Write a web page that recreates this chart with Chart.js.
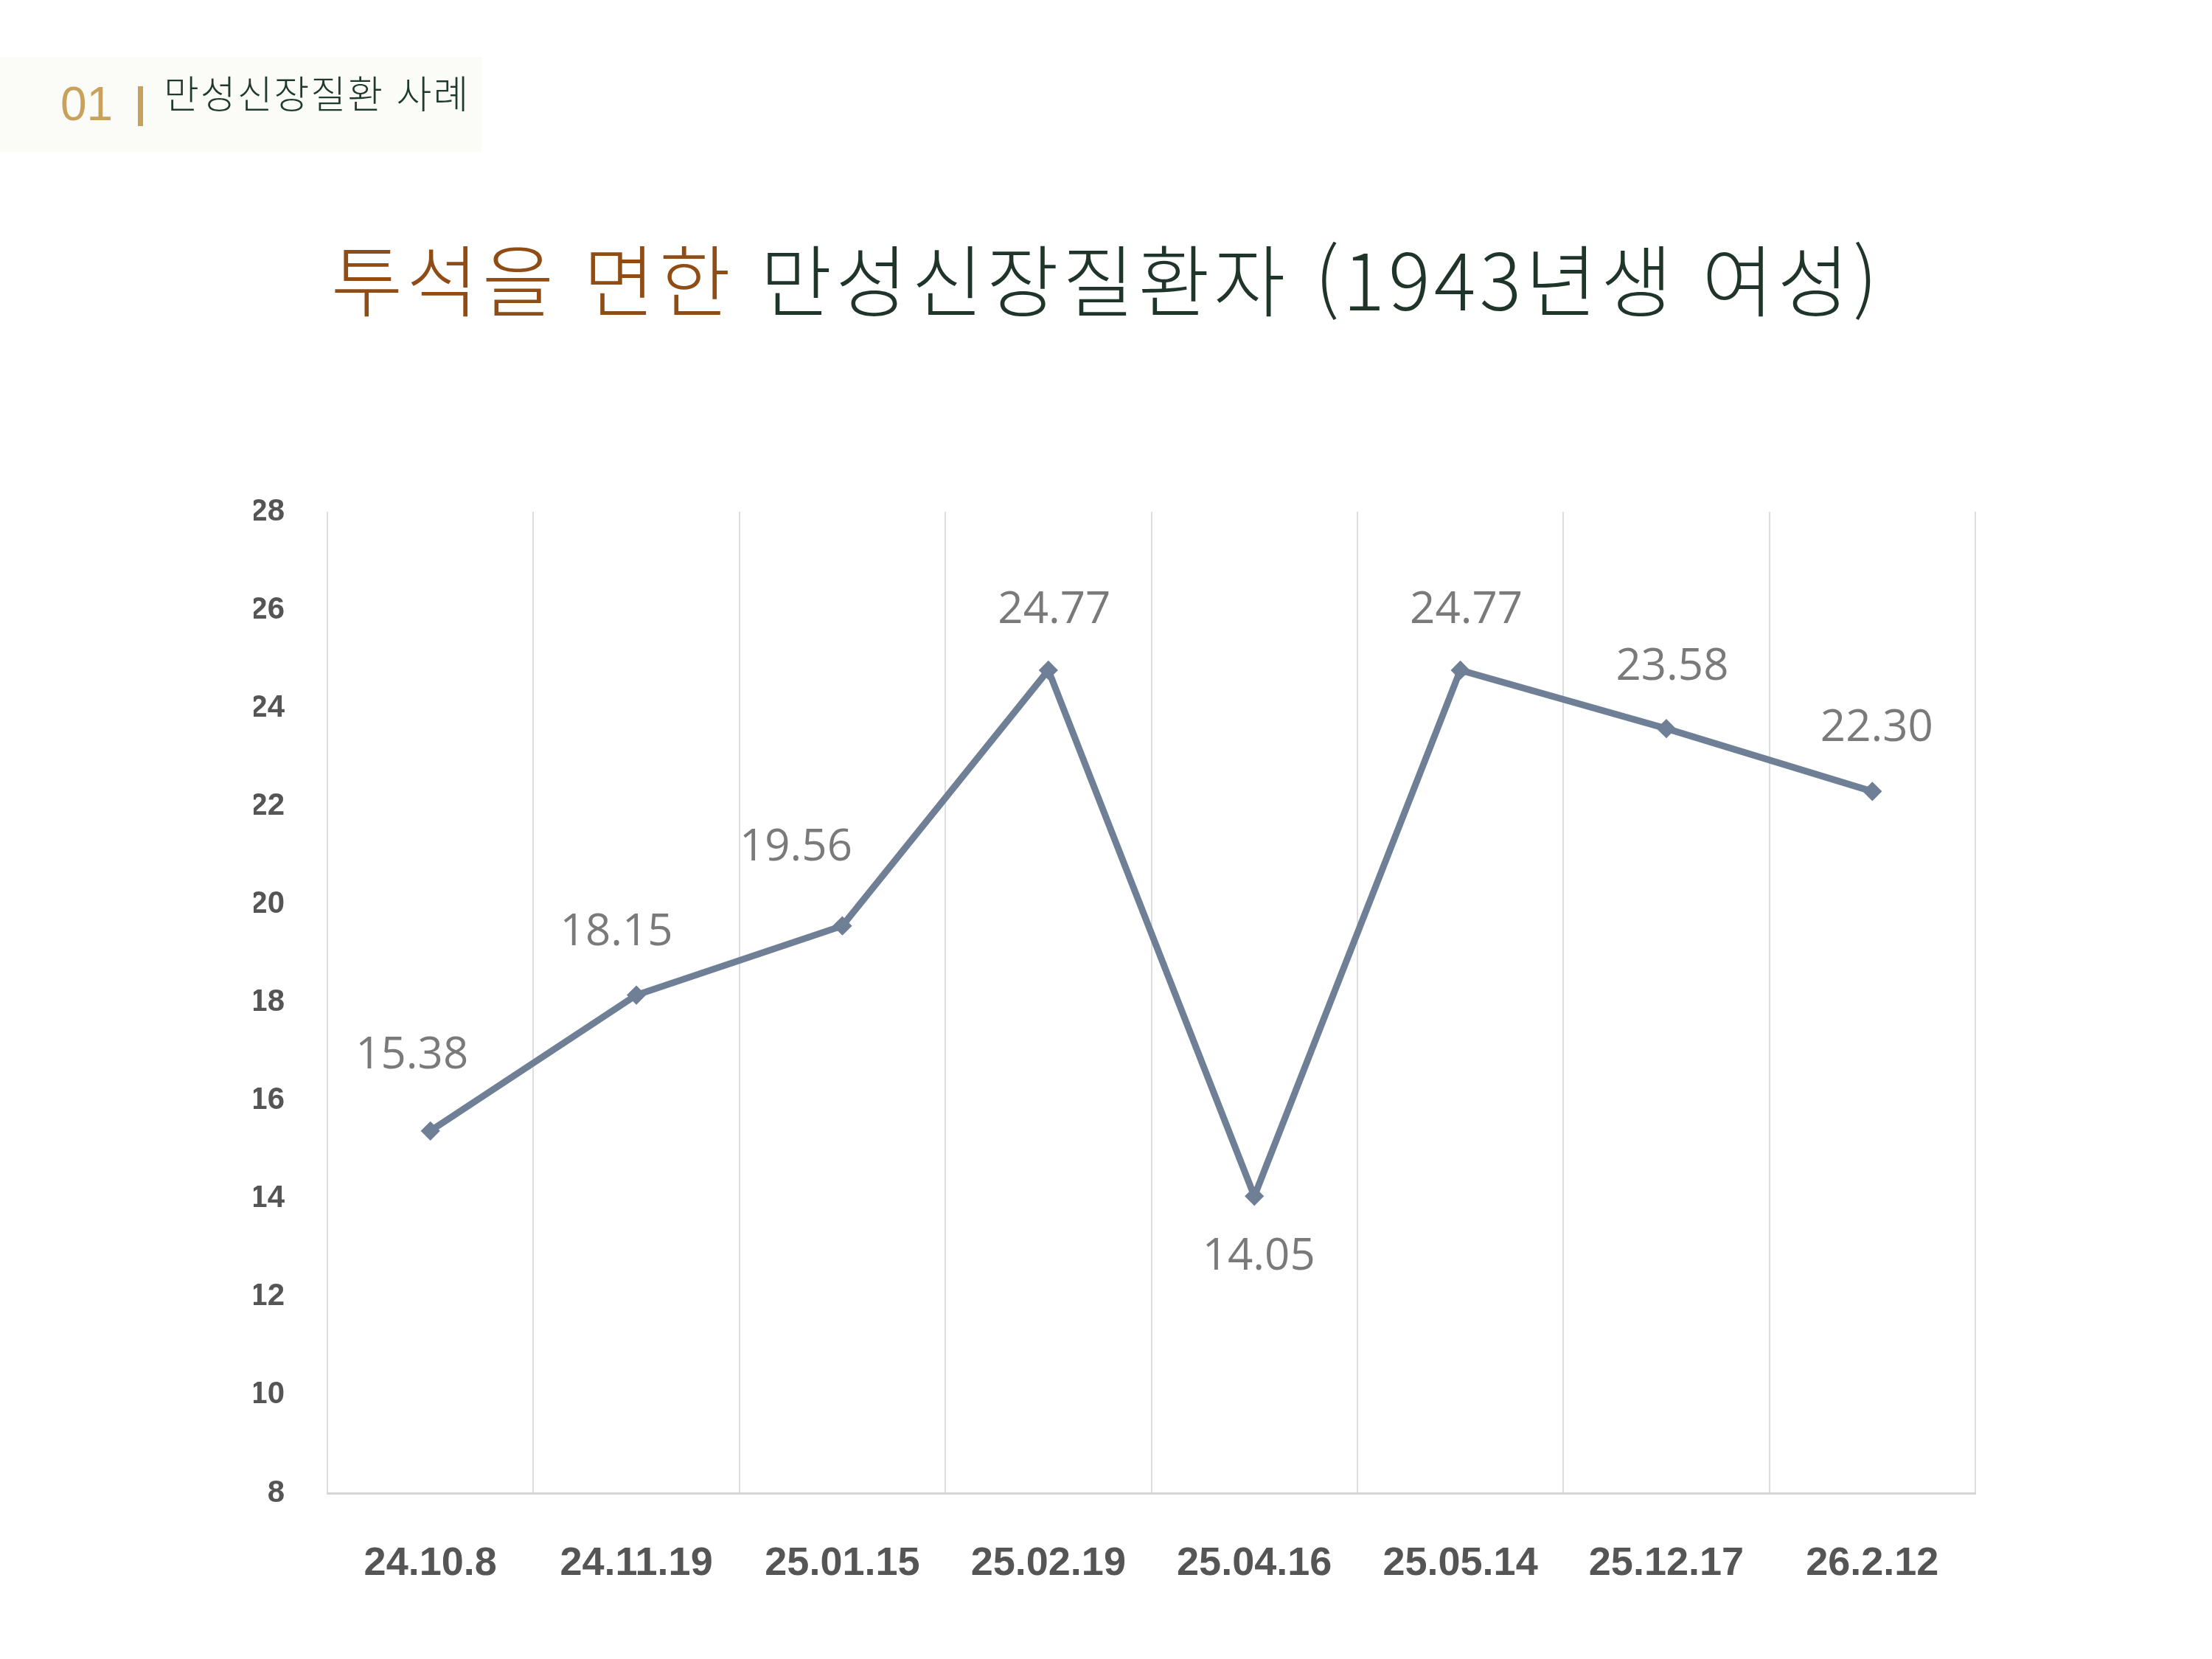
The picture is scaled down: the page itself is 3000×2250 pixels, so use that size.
<!DOCTYPE html>
<html lang="ko">
<head>
<meta charset="utf-8">
<title>투석을 면한 만성신장질환자</title>
<script src="https://cdn.jsdelivr.net/npm/chart.js@4.4.1/dist/chart.umd.min.js"></script>
<style>
  html, body {
    margin: 0;
    padding: 0;
    background: #ffffff;
  }
  body {
    width: 3000px;
    height: 2250px;
    position: relative;
    overflow: hidden;
    font-family: "Noto Sans CJK KR", "Noto Sans", sans-serif;
  }
  .tag {
    position: absolute;
    left: 0;
    top: 77px;
    width: 654px;
    height: 129px;
    background: #fbfbf7;
  }
  .tag .num {
    position: absolute;
    left: 82px;
    top: 32px;
    font-family: "Liberation Sans", Arial, sans-serif;
    font-size: 64px;
    line-height: 64px;
    color: #c8a25c;
  }
  .tag .bar {
    position: absolute;
    left: 187px;
    top: 40px;
    width: 7px;
    height: 54px;
    background: #c8a25c;
  }
  .tag .label {
    position: absolute;
    left: 222px;
    top: 12px;
    font-size: 52px;
    line-height: 72px;
    font-weight: 300;
    color: #1e3a2c;
    letter-spacing: 2px;
  }
  h1 {
    position: absolute;
    left: 0;
    width: 3000px;
    top: 300px;
    margin: 0;
    text-align: center;
    font-size: 106px;
    line-height: 150px;
    font-weight: 300;
    color: #1f3529;
    letter-spacing: 5px;
  }
  h1 .accent {
    color: #8f4c14;
  }
  .chart-box {
    position: absolute;
    left: 0;
    top: 600px;
    width: 3000px;
    height: 1650px;
  }
</style>
</head>
<body>
<div class="tag">
  <span class="num">01</span>
  <div class="bar"></div>
  <span class="label">만성신장질환 사례</span>
</div>
<h1><span class="accent">투석을 면한</span> 만성신장질환자 (1943년생 여성)</h1>
<div class="chart-box"><canvas id="chart"></canvas></div>

<script>
// 검사 날짜
const DATES = [
  "24.10.8",
  "24.11.19",
  "25.01.15",
  "25.02.19",
  "25.04.16",
  "25.05.14",
  "25.12.17",
  "26.2.12",
];

// 측정값
const VALUES = [15.38, 18.15, 19.56, 24.77, 14.05, 24.77, 23.58, 22.3];

// y축 범위
const Y_MIN = 8;
const Y_MAX = 28;
const Y_STEP = 2;

// 값 라벨 위치 보정 (px)
const LABEL_SHIFT = [
  [-25, -102],
  [-27, -85],
  [-63, -106],
  [8, -81],
  [6, 83],
  [8, -81],
  [8, -83],
  [6, -85],
];

const valueLabels = {
  id: "valueLabels",
  afterDatasetsDraw(chart) {
    const ctx = chart.ctx;
    const meta = chart.getDatasetMeta(0);
    ctx.save();
    ctx.font = '60px "Open Sans", "Liberation Sans", sans-serif';
    ctx.fillStyle = "#7a7a7a";
    ctx.textAlign = "center";
    ctx.textBaseline = "middle";
    meta.data.forEach((pt, i) => {
      const shift = LABEL_SHIFT[i] || [0, -85];
      ctx.fillText(VALUES[i].toFixed(2), pt.x + shift[0], pt.y + shift[1]);
    });
    ctx.restore();
  },
};

const ctx = document.getElementById("chart").getContext("2d");
new Chart(ctx, {
  type: "line",
  data: {
    labels: DATES,
    datasets: [
      {
        data: VALUES,
        borderColor: "#6e7f96",
        backgroundColor: "#6e7f96",
        borderWidth: 9,
        pointStyle: "rectRot",
        pointRadius: 11,
        pointBorderWidth: 3,
        pointBorderColor: "#6e7f96",
        pointBackgroundColor: "#6e7f96",
        tension: 0,
        fill: false,
      },
    ],
  },
  options: {
    responsive: true,
    maintainAspectRatio: false,
    animation: false,
    layout: {
      padding: { left: 344, right: 321, top: 94, bottom: 75 },
    },
    plugins: {
      legend: { display: false },
      tooltip: { enabled: false },
    },
    scales: {
      x: {
        offset: true,
        grid: {
          display: true,
          offset: true,
          color: "#dedede",
          lineWidth: 2,
          drawTicks: false,
        },
        border: { display: true, color: "#d6d6d6", width: 3 },
        ticks: {
          padding: 64,
          color: "#555555",
          font: { family: '"Liberation Sans", Arial, sans-serif', size: 54, weight: "bold" },
          maxRotation: 0,
          autoSkip: false,
        },
        afterFit(scale) {
          scale.height = 150;
        },
      },
      y: {
        min: Y_MIN,
        max: Y_MAX,
        grid: { display: false, drawTicks: false },
        border: { display: false },
        ticks: {
          stepSize: Y_STEP,
          padding: 58,
          color: "#555555",
          font: { family: '"Liberation Sans", Arial, sans-serif', size: 42, weight: "bold" },
        },
        afterFit(scale) {
          scale.width = 100;
        },
      },
    },
  },
  plugins: [valueLabels],
});
</script>
</body>
</html>
